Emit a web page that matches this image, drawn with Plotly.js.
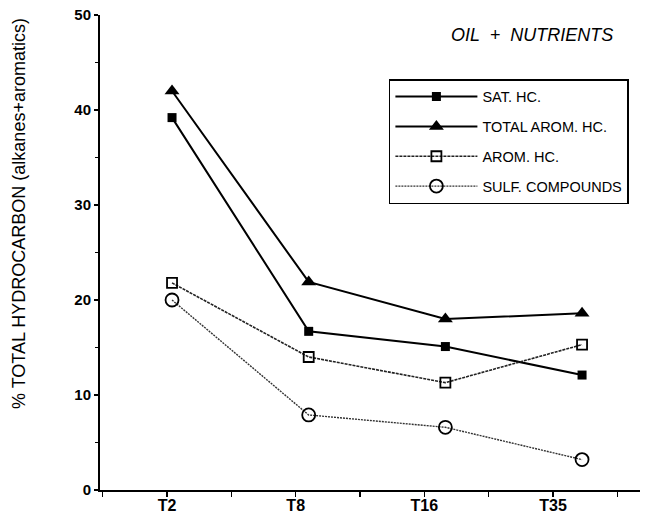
<!DOCTYPE html>
<html>
<head>
<meta charset="utf-8">
<script src="https://cdn.plot.ly/plotly-3.0.1.min.js"></script>
<style>html,body{margin:0;padding:0;background:#fff;}</style>
</head>
<body>
<div id="chart" style="width:645px;height:523px;"></div>
<script>
// Data
const categories = ["T2", "T8", "T16", "T35"];
const satHC = [39.2, 16.7, 15.1, 12.1];
const totalAromHC = [42.0, 21.9, 18.0, 18.6];
const aromHC = [21.8, 14.0, 11.3, 15.3];
const sulfCompounds = [20.0, 7.9, 6.6, 3.2];
const seriesNames = ["SAT. HC.", "TOTAL AROM. HC.", "AROM. HC.", "SULF. COMPOUNDS"];
const yTitle = "% TOTAL HYDROCARBON (alkanes+aromatics)";
const panelLabel = "OIL  +  NUTRIENTS";

const tickIdx = categories.map((c, i) => i);
const FONT = "Arial, 'Liberation Sans', sans-serif";

const traces = [
  {x: categories, y: satHC, name: seriesNames[0], legendgroup: "g1", mode: "lines+markers",
   line: {color: "#000", width: 2}, marker: {symbol: "square", size: 9, color: "#000"}},
  {x: categories, y: totalAromHC, name: seriesNames[1], legendgroup: "g2", mode: "lines+markers",
   line: {color: "#000", width: 2}, marker: {symbol: "triangle-up", size: 13, color: "#000"}},
  {x: categories, y: aromHC, name: seriesNames[2], legendgroup: "g3", mode: "lines+markers",
   line: {color: "#222", width: 1.6, dash: "3px,1px"},
   marker: {symbol: "square-open", size: 10, color: "#000", line: {width: 1.8}}},
  {x: categories, y: sulfCompounds, name: seriesNames[3], legendgroup: "g4", mode: "lines+markers",
   line: {color: "#333", width: 1.4, dash: "2px,1px"},
   marker: {symbol: "circle-open", size: 13, color: "#000", line: {width: 1.8}}},
  {x: tickIdx, y: categories.map(() => null), xaxis: "x2", yaxis: "y",
   mode: "markers", showlegend: false, hoverinfo: "skip"}
];

const layout = {
  width: 645, height: 523,
  margin: {l: 100, r: 5, t: 15, b: 33},
  paper_bgcolor: "#fff", plot_bgcolor: "#fff",
  font: {family: FONT, color: "#000"},
  showlegend: true,
  xaxis: {
    type: "category", range: [-0.527, 3.424],
    showline: false, showticklabels: false, ticks: "", showgrid: false, zeroline: false
  },
  xaxis2: {
    overlaying: "x", anchor: "y", side: "bottom",
    type: "linear", range: [-0.521, 3.676],
    tickmode: "array", tickvals: tickIdx, ticktext: categories,
    showline: true, linecolor: "#000", linewidth: 2,
    ticks: "outside", ticklen: 5, tickwidth: 1.5, tickcolor: "#000",
    ticklabelstandoff: -5,
    minor: {tickmode: "linear", tick0: -0.5, dtick: 0.5, ticks: "outside", ticklen: 5, tickwidth: 1.5, tickcolor: "#000", showgrid: false},
    showgrid: false, zeroline: false,
    tickfont: {family: FONT, size: 16, color: "#000", weight: "bold"}
  },
  yaxis: {
    range: [0, 50], dtick: 10, tick0: 0,
    showline: true, linecolor: "#000", linewidth: 2,
    ticks: "outside", ticklen: 4, tickwidth: 2, tickcolor: "#000",
    minor: {dtick: 5, ticks: "outside", ticklen: 3, tickwidth: 1, tickcolor: "#000", showgrid: false},
    showgrid: false, zeroline: false,
    tickfont: {family: FONT, size: 15, color: "#000", weight: "bold"}
  },
  legend: {
    x: 0.535, y: 0.865, xanchor: "left", yanchor: "top",
    bordercolor: "#000", borderwidth: 1.5, bgcolor: "#fff",
    font: {family: FONT, size: 14.5, color: "#000"},
    itemwidth: 82, tracegroupgap: 8
  },
  annotations: [
    {
      text: "<i>" + panelLabel + "</i>", xref: "paper", yref: "paper",
      x: 0.80, y: 0.958, xanchor: "center", yanchor: "middle", showarrow: false,
      font: {family: FONT, size: 18, color: "#000"}
    },
    {
      text: yTitle, xref: "paper", yref: "paper", textangle: -90,
      x: -0.15, y: 0.581, xanchor: "center", yanchor: "middle", showarrow: false,
      font: {family: FONT, size: 18, color: "#000"}
    }
  ]
};

Plotly.newPlot("chart", traces, layout, {displayModeBar: false, staticPlot: true});
</script>
</body>
</html>
